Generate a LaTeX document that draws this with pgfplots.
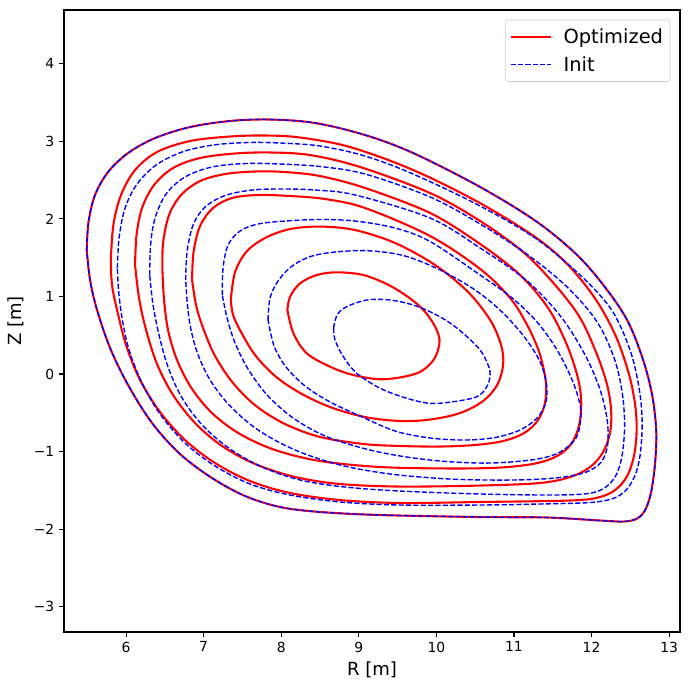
\documentclass[border=0pt]{standalone}
\usepackage{fontspec}
\setmainfont{DejaVu Sans}
\usepackage{pgfplots}
\pgfplotsset{compat=1.18}
\begin{document}
\begin{tikzpicture}
\begin{axis}[
  scale only axis, width=443.5pt, height=447.8pt,
  xmin=5.2, xmax=13.14, ymin=-3.326, ymax=4.693,
  axis line style={line width=0.8pt},
  tick align=outside, tick pos=left, major tick length=3.5pt,
  major tick style={black, line width=0.8pt},
  xtick={6,7,8,9,10,11,12,13}, ytick={-3,-2,-1,0,1,2,3,4},
  xticklabels={6,7,8,9,10,11,12,13},
  yticklabels={−3,−2,−1,0,1,2,3,4},
  tick label style={font=\fontsize{10}{12}\selectfont},
  xlabel={R [m]}, ylabel={Z [m]},
  label style={font=\fontsize{13}{15}\selectfont},
  legend style={at={(1,1)}, anchor=north east, xshift=-7pt, yshift=-7pt, draw=black!20, rounded corners=2pt, fill=white, font=\fontsize{14}{16}\selectfont, inner xsep=3pt, inner ysep=4pt, row sep=4pt, cells={anchor=west}, /tikz/every odd column/.append style={column sep=6.5pt}},
  legend image code/.code={\draw[#1] (0pt,0pt) -- (28.8pt,0pt);},
  red curve/.style={color=red, line width=1.5pt, smooth, tension=0.55},
  blue curve/.style={color=blue, line width=1pt, smooth, tension=0.55, dash pattern=on 3.7pt off 1.6pt},
]
% ---------- Optimized (red) ----------
\addplot[red curve] coordinates {
(5.493,1.599) (5.516,1.960) (5.600,2.308) (5.768,2.604) (6.026,2.849) (6.374,3.042) (6.825,3.184) (7.341,3.262) (7.856,3.281) (8.436,3.236) (9.081,3.081) (9.700,2.849) (10.564,2.411) (11.298,1.960) (11.827,1.521) (12.201,1.083) (12.472,0.670) (12.665,0.180) (12.781,-0.271) (12.833,-0.722) (12.820,-1.135) (12.768,-1.521) (12.691,-1.753) (12.588,-1.863) (12.420,-1.902) (12.111,-1.889) (11.427,-1.850) (10.564,-1.844) (9.274,-1.818) (8.501,-1.779) (7.985,-1.715) (7.534,-1.573) (7.108,-1.341) (6.696,-1.032) (6.335,-0.632) (6.026,-0.142) (5.794,0.335) (5.626,0.825) (5.536,1.212) (5.493,1.599)};
\addlegendentry{Optimized}
\addplot[red curve, forget plot] coordinates {
(5.803,1.444) (5.836,1.921) (5.935,2.308) (6.116,2.630) (6.399,2.862) (6.825,3.004) (7.341,3.062) (7.792,3.075) (8.243,3.049) (8.888,2.926) (9.700,2.630) (10.538,2.217) (11.273,1.766) (11.698,1.405) (12.059,0.954) (12.317,0.477) (12.485,-0.013) (12.562,-0.400) (12.581,-0.722) (12.549,-1.044) (12.459,-1.315) (12.304,-1.496) (12.085,-1.592) (11.724,-1.631) (10.564,-1.650) (9.532,-1.663) (8.759,-1.625) (8.114,-1.534) (7.598,-1.380) (7.147,-1.148) (6.760,-0.851) (6.438,-0.490) (6.180,-0.077) (6.000,0.374) (5.884,0.825) (5.819,1.147) (5.803,1.444)};
\addplot[red curve, forget plot] coordinates {
(6.116,1.405) (6.135,1.792) (6.206,2.140) (6.361,2.437) (6.606,2.656) (6.954,2.785) (7.405,2.843) (7.856,2.856) (8.372,2.823) (9.017,2.669) (9.919,2.333) (10.564,1.972) (11.118,1.573) (11.531,1.147) (11.853,0.722) (12.072,0.245) (12.201,-0.142) (12.252,-0.464) (12.240,-0.748) (12.149,-1.006) (11.982,-1.199) (11.724,-1.328) (11.337,-1.405) (10.564,-1.438) (9.532,-1.451) (8.759,-1.418) (8.179,-1.328) (7.663,-1.160) (7.237,-0.928) (6.889,-0.632) (6.606,-0.271) (6.399,0.129) (6.258,0.567) (6.167,0.980) (6.116,1.405)};
\addplot[red curve, forget plot] coordinates {
(6.468,1.341) (6.477,1.689) (6.554,2.050) (6.709,2.308) (6.954,2.488) (7.276,2.578) (7.663,2.611) (8.050,2.604) (8.501,2.552) (9.081,2.398) (9.919,2.076) (10.564,1.676) (11.079,1.276) (11.440,0.851) (11.672,0.400) (11.814,-0.013) (11.866,-0.335) (11.840,-0.658) (11.737,-0.903) (11.556,-1.057) (11.273,-1.154) (10.821,-1.206) (10.177,-1.218) (9.274,-1.199) (8.501,-1.122) (7.921,-0.980) (7.469,-0.774) (7.121,-0.516) (6.851,-0.194) (6.657,0.180) (6.541,0.567) (6.490,0.954) (6.468,1.341)};
\addplot[red curve, forget plot] coordinates {
(6.851,1.212) (6.870,1.573) (6.954,1.908) (7.121,2.140) (7.366,2.269) (7.702,2.308) (8.114,2.295) (8.565,2.256) (9.081,2.140) (9.919,1.779) (10.564,1.354) (10.950,0.980) (11.170,0.632) (11.324,0.284) (11.408,-0.077) (11.402,-0.361) (11.311,-0.593) (11.131,-0.761) (10.860,-0.864) (10.499,-0.915) (10.048,-0.935) (9.532,-0.928) (9.068,-0.903) (8.501,-0.812) (8.050,-0.645) (7.676,-0.413) (7.379,-0.116) (7.147,0.232) (6.993,0.593) (6.902,0.889) (6.851,1.212)};
\addplot[red curve, forget plot] coordinates {
(7.350,0.954) (7.405,1.315) (7.560,1.586) (7.805,1.760) (8.114,1.869) (8.501,1.901) (8.952,1.856) (9.468,1.689) (9.983,1.405) (10.409,1.057) (10.693,0.696) (10.834,0.374) (10.860,0.116) (10.783,-0.142) (10.602,-0.348) (10.306,-0.503) (9.919,-0.587) (9.532,-0.606) (9.081,-0.555) (8.630,-0.426) (8.243,-0.245) (7.921,-0.026) (7.663,0.245) (7.482,0.541) (7.379,0.761) (7.350,0.954)};
\addplot[red curve, forget plot] coordinates {
(8.079,0.825) (8.114,0.997) (8.243,1.169) (8.458,1.276) (8.716,1.311) (9.059,1.276) (9.400,1.140) (9.700,0.945) (9.876,0.775) (10.005,0.567) (10.039,0.396) (9.962,0.180) (9.748,0.009) (9.317,-0.068) (8.930,-0.013) (8.630,0.094) (8.329,0.267) (8.157,0.525) (8.079,0.825)};
% ---------- Init (blue) ----------
\addplot[blue curve] coordinates {
(5.493,1.599) (5.516,1.960) (5.600,2.308) (5.768,2.604) (6.026,2.849) (6.374,3.042) (6.825,3.184) (7.341,3.262) (7.856,3.281) (8.436,3.236) (9.081,3.081) (9.700,2.849) (10.564,2.411) (11.298,1.960) (11.827,1.521) (12.201,1.083) (12.472,0.670) (12.665,0.180) (12.781,-0.271) (12.833,-0.722) (12.820,-1.135) (12.768,-1.521) (12.691,-1.753) (12.588,-1.863) (12.420,-1.902) (12.111,-1.889) (11.427,-1.850) (10.564,-1.844) (9.274,-1.818) (8.501,-1.779) (7.985,-1.715) (7.534,-1.573) (7.108,-1.341) (6.696,-1.032) (6.335,-0.632) (6.026,-0.142) (5.794,0.335) (5.626,0.825) (5.536,1.212) (5.493,1.599)};
\addlegendentry{Init}
\addplot[blue curve, forget plot] coordinates {
(5.888,1.366) (5.910,1.753) (5.987,2.140) (6.142,2.449) (6.387,2.694) (6.722,2.862) (7.121,2.952) (7.560,2.984) (7.985,2.978) (8.501,2.939) (9.081,2.810) (9.700,2.578) (10.538,2.179) (11.273,1.753) (11.853,1.276) (12.214,0.889) (12.394,0.567) (12.536,0.180) (12.626,-0.271) (12.652,-0.658) (12.626,-1.044) (12.562,-1.302) (12.446,-1.496) (12.278,-1.605) (11.982,-1.657) (11.337,-1.676) (10.564,-1.689) (9.532,-1.689) (8.759,-1.650) (8.114,-1.560) (7.598,-1.418) (7.147,-1.186) (6.760,-0.890) (6.438,-0.516) (6.206,-0.116) (6.039,0.309) (5.948,0.722) (5.903,1.083) (5.888,1.366)};
\addplot[blue curve, forget plot] coordinates {
(6.305,1.276) (6.316,1.663) (6.374,2.011) (6.516,2.321) (6.760,2.540) (7.108,2.669) (7.547,2.714) (7.985,2.707) (8.501,2.675) (9.081,2.578) (9.919,2.282) (10.564,1.934) (11.182,1.534) (11.698,1.109) (12.072,0.670) (12.291,0.206) (12.394,-0.232) (12.426,-0.658) (12.394,-1.044) (12.317,-1.302) (12.175,-1.463) (11.956,-1.541) (11.466,-1.560) (10.564,-1.547) (9.532,-1.509) (8.823,-1.457) (8.243,-1.367) (7.753,-1.199) (7.341,-0.967) (6.993,-0.670) (6.722,-0.309) (6.541,0.090) (6.425,0.503) (6.348,0.889) (6.305,1.276)};
\addplot[blue curve, forget plot] coordinates {
(6.769,1.212) (6.786,1.573) (6.864,1.921) (7.018,2.153) (7.276,2.301) (7.624,2.372) (8.011,2.385) (8.436,2.372) (8.952,2.308) (9.919,2.011) (10.564,1.624) (11.170,1.199) (11.608,0.735) (11.917,0.245) (12.111,-0.206) (12.201,-0.593) (12.207,-0.915) (12.124,-1.135) (11.917,-1.270) (11.531,-1.341) (10.950,-1.367) (10.177,-1.354) (9.403,-1.289) (8.759,-1.173) (8.179,-0.980) (7.702,-0.722) (7.341,-0.413) (7.083,-0.077) (6.915,0.284) (6.825,0.632) (6.786,0.954) (6.769,1.212)};
\addplot[blue curve, forget plot] coordinates {
(7.241,1.018) (7.250,1.366) (7.315,1.663) (7.469,1.843) (7.702,1.934) (8.050,1.972) (8.501,1.992) (8.952,1.972) (9.468,1.882) (9.919,1.708) (10.564,1.276) (10.976,0.980) (11.298,0.670) (11.556,0.309) (11.750,-0.077) (11.853,-0.400) (11.859,-0.593) (11.801,-0.825) (11.595,-1.006) (11.337,-1.090) (10.950,-1.135) (10.564,-1.148) (10.048,-1.122) (9.532,-1.057) (9.068,-0.961) (8.565,-0.799) (8.153,-0.567) (7.818,-0.271) (7.573,0.064) (7.405,0.400) (7.302,0.722) (7.241,1.018)};
\addplot[blue curve, forget plot] coordinates {
(7.830,0.696) (7.856,0.980) (7.959,1.199) (8.140,1.392) (8.398,1.521) (8.759,1.579) (9.171,1.586) (9.597,1.521) (10.048,1.341) (10.499,1.083) (10.847,0.799) (11.144,0.464) (11.337,0.155) (11.421,-0.142) (11.408,-0.374) (11.298,-0.567) (11.079,-0.722) (10.757,-0.819) (10.370,-0.851) (9.919,-0.825) (9.468,-0.735) (9.017,-0.542) (8.630,-0.361) (8.308,-0.155) (8.062,0.090) (7.908,0.361) (7.830,0.696)};
\addplot[blue curve, forget plot] coordinates {
(8.675,0.593) (8.720,0.761) (8.845,0.868) (9.103,0.954) (9.403,0.954) (9.704,0.889) (9.962,0.782) (10.177,0.657) (10.370,0.503) (10.564,0.309) (10.667,0.116) (10.693,-0.013) (10.650,-0.164) (10.521,-0.293) (10.219,-0.357) (9.919,-0.378) (9.618,-0.313) (9.274,-0.184) (8.974,0.009) (8.801,0.223) (8.694,0.438) (8.675,0.593)};
\end{axis}
\pgfresetboundingbox
\path ([shift={(-46.08pt,-41.76pt)}]current axis.south west) rectangle ([shift={(7.2pt,7.2pt)}]current axis.north east);
\end{tikzpicture}
\end{document}
